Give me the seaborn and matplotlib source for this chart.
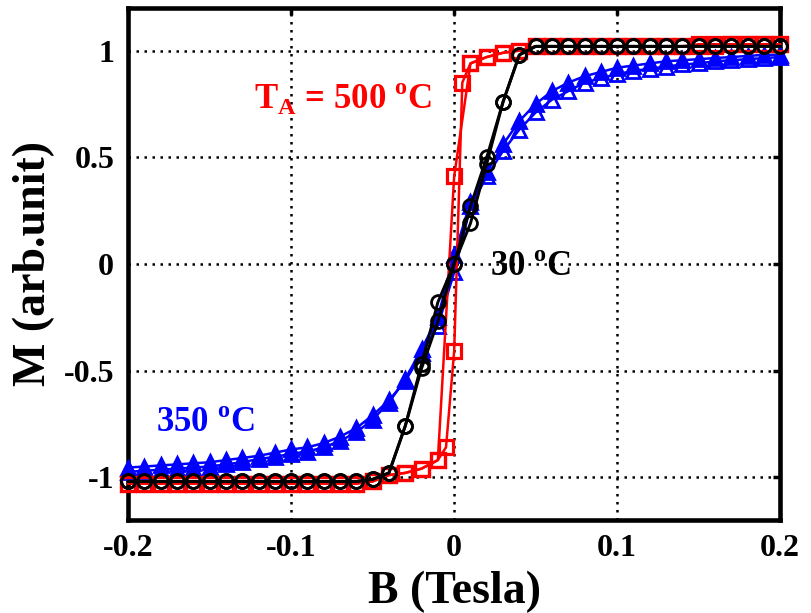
import numpy as np
import pandas as pd
import seaborn as sns
import matplotlib.pyplot as plt

# field sweep (Tesla)
B_UP = [-0.20, -0.19, -0.18, -0.17, -0.16, -0.15, -0.14, -0.13, -0.12, -0.11,
        -0.10, -0.09, -0.08, -0.07, -0.06, -0.05, -0.04, -0.03, -0.02, -0.01,
        0.00, 0.01, 0.02, 0.03, 0.04, 0.05, 0.06, 0.07, 0.08, 0.09,
        0.10, 0.11, 0.12, 0.13, 0.14, 0.15, 0.16, 0.17, 0.18, 0.19, 0.20]
B_DOWN = B_UP[::-1]

# 30 C (black circles)
M30_UP = [-1.02, -1.02, -1.02, -1.02, -1.02, -1.02, -1.02, -1.02, -1.02, -1.02,
          -1.02, -1.02, -1.02, -1.02, -1.02, -1.01, -0.98, -0.76, -0.49, -0.27,
          0.00, 0.19, 0.47, 0.76, 0.98, 1.02, 1.02, 1.02, 1.02, 1.02,
          1.02, 1.02, 1.02, 1.02, 1.02, 1.02, 1.02, 1.02, 1.02, 1.02, 1.02]
M30_DOWN = [1.02, 1.02, 1.02, 1.02, 1.02, 1.02, 1.02, 1.02, 1.02, 1.02,
            1.02, 1.02, 1.02, 1.02, 1.02, 1.02, 0.98, 0.76, 0.50, 0.27,
            0.00, -0.18, -0.47, -0.76, -0.98, -1.01, -1.02, -1.02, -1.02, -1.02,
            -1.02, -1.02, -1.02, -1.02, -1.02, -1.02, -1.02, -1.02, -1.02, -1.02, -1.02]

# 350 C (blue triangles), filled and open branches
M350_FILLED = [-0.975, -0.97, -0.965, -0.96, -0.955, -0.95, -0.94, -0.93, -0.915, -0.905,
               -0.89, -0.88, -0.86, -0.83, -0.79, -0.73, -0.65, -0.54, -0.40, -0.25,
               0.04, 0.29, 0.43, 0.56, 0.67, 0.75, 0.81, 0.85, 0.88, 0.90,
               0.92, 0.93, 0.94, 0.95, 0.955, 0.96, 0.965, 0.97, 0.975, 0.98, 0.98]
M350_OPEN = [-0.955, -0.95, -0.945, -0.94, -0.935, -0.93, -0.92, -0.91, -0.90, -0.885,
             -0.87, -0.86, -0.84, -0.81, -0.77, -0.71, -0.64, -0.55, -0.42, -0.29,
             -0.04, 0.27, 0.41, 0.53, 0.63, 0.71, 0.77, 0.81, 0.85, 0.87,
             0.89, 0.905, 0.915, 0.925, 0.935, 0.94, 0.95, 0.955, 0.96, 0.965, 0.97]

# 500 C (red squares), finer steps around zero
B500_UP = [-0.20, -0.19, -0.18, -0.17, -0.16, -0.15, -0.14, -0.13, -0.12, -0.11,
           -0.10, -0.09, -0.08, -0.07, -0.06, -0.05, -0.04, -0.03, -0.02, -0.01,
           -0.005, 0.00, 0.005, 0.01, 0.02, 0.03, 0.04, 0.05, 0.06, 0.07, 0.08, 0.09,
           0.10, 0.11, 0.12, 0.13, 0.14, 0.15, 0.16, 0.17, 0.18, 0.19, 0.20]
M500_UP = [-1.03, -1.03, -1.03, -1.03, -1.03, -1.03, -1.03, -1.03, -1.03, -1.03,
           -1.03, -1.03, -1.03, -1.03, -1.03, -1.02, -0.99, -0.98, -0.96, -0.92,
           -0.86, -0.41, 0.85, 0.94, 0.97, 0.99, 1.00, 1.02, 1.02, 1.02, 1.02, 1.02,
           1.02, 1.02, 1.02, 1.02, 1.02, 1.02, 1.02, 1.03, 1.03, 1.03, 1.03]
B500_DOWN = [0.20, 0.19, 0.18, 0.17, 0.16, 0.15, 0.14, 0.13, 0.12, 0.11,
             0.10, 0.09, 0.08, 0.07, 0.06, 0.05, 0.04, 0.03, 0.02, 0.01,
             0.00, -0.01, -0.02, -0.03, -0.04, -0.05, -0.06, -0.07, -0.08, -0.09,
             -0.10, -0.11, -0.12, -0.13, -0.14, -0.15, -0.16, -0.17, -0.18, -0.19, -0.20]
M500_DOWN = [1.03, 1.03, 1.03, 1.03, 1.03, 1.03, 1.02, 1.02, 1.02, 1.02,
             1.02, 1.02, 1.02, 1.02, 1.02, 1.02, 1.00, 0.99, 0.97, 0.94,
             0.41, -0.92, -0.96, -0.98, -0.99, -1.02, -1.03, -1.03, -1.03, -1.03,
             -1.03, -1.03, -1.03, -1.03, -1.03, -1.03, -1.03, -1.03, -1.03, -1.03, -1.03]

XTICKS = [-0.2, -0.1, 0, 0.1, 0.2]
YTICKS = [-1, -0.5, 0, 0.5, 1]

sns.set_style("white")
plt.rcParams['font.family'] = ['Liberation Serif', 'DejaVu Serif']
plt.rcParams['font.weight'] = 'bold'
plt.rcParams['text.color'] = 'black'
plt.rcParams['xtick.color'] = 'black'
plt.rcParams['ytick.color'] = 'black'
plt.rcParams['axes.labelcolor'] = 'black'
plt.rcParams['mathtext.fontset'] = 'custom'
plt.rcParams['mathtext.rm'] = 'Liberation Serif:bold'
plt.rcParams['mathtext.bf'] = 'Liberation Serif:bold'

fig = plt.figure(figsize=(8.11, 6.13), dpi=100)
ax = fig.add_axes([0.158, 0.152, 0.804, 0.835])

BLUE = '#0000ff'
RED = '#ff0000'
BLACK = '#000000'

def branch(x, y, color, marker, ms, face='none', lw=1.8, mew=2.0):
    sns.lineplot(x=x, y=y, ax=ax, sort=False, estimator=None, color=color,
                 linewidth=lw, marker=marker, markersize=ms, clip_on=False,
                 markerfacecolor=face, markeredgecolor=color, markeredgewidth=mew)

branch(B_UP, M350_FILLED, BLUE, '^', 10, face=BLUE)
branch(B_DOWN, M350_OPEN[::-1], BLUE, '^', 10)
branch(B500_UP, M500_UP, RED, 's', 10, mew=2.3)
branch(B500_DOWN, M500_DOWN, RED, 's', 10, mew=2.3)
branch(B_UP, M30_UP, BLACK, 'o', 10, lw=2.1)
branch(B_DOWN, M30_DOWN, BLACK, 'o', 10, lw=2.1)

ax.set_xlim(-0.2, 0.2)
ax.set_ylim(-1.2, 1.2)
ax.set_xticks(XTICKS)
ax.set_xticklabels(['-0.2', '-0.1', '0', '0.1', '0.2'])
ax.set_yticks(YTICKS)
ax.set_yticklabels(['-1', '-0.5', '0', '0.5', '1'])
ax.tick_params(direction='in', length=5, width=2.5, labelsize=23, pad=10,
               top=True, right=True)
for lab in ax.get_xticklabels() + ax.get_yticklabels():
    lab.set_fontweight('bold')
ax.grid(True, color='black', linestyle=(0, (1, 2.2)), linewidth=1.8)
ax.set_axisbelow(True)
for sp in ax.spines.values():
    sp.set_linewidth(3.3)
    sp.set_color('black')
    sp.set_zorder(1.5)

ax.set_xlabel('B (Tesla)', fontsize=33, fontweight='bold', labelpad=6)
ax.set_ylabel('M (arb.unit)', fontsize=33, fontweight='bold', labelpad=6)

ax.text(-0.123, 0.724, r'T$_\mathrm{A}$ = 500 $^\mathrm{o}$C', color=RED,
        fontsize=25, fontweight='bold', va='baseline')
ax.text(0.022, -0.056, r'30 $^\mathrm{o}$C', color=BLACK,
        fontsize=25, fontweight='bold', va='baseline')
ax.text(-0.183, -0.79, r'350 $^\mathrm{o}$C', color=BLUE,
        fontsize=25, fontweight='bold', va='baseline')

fig.savefig('out.png', dpi=100)
